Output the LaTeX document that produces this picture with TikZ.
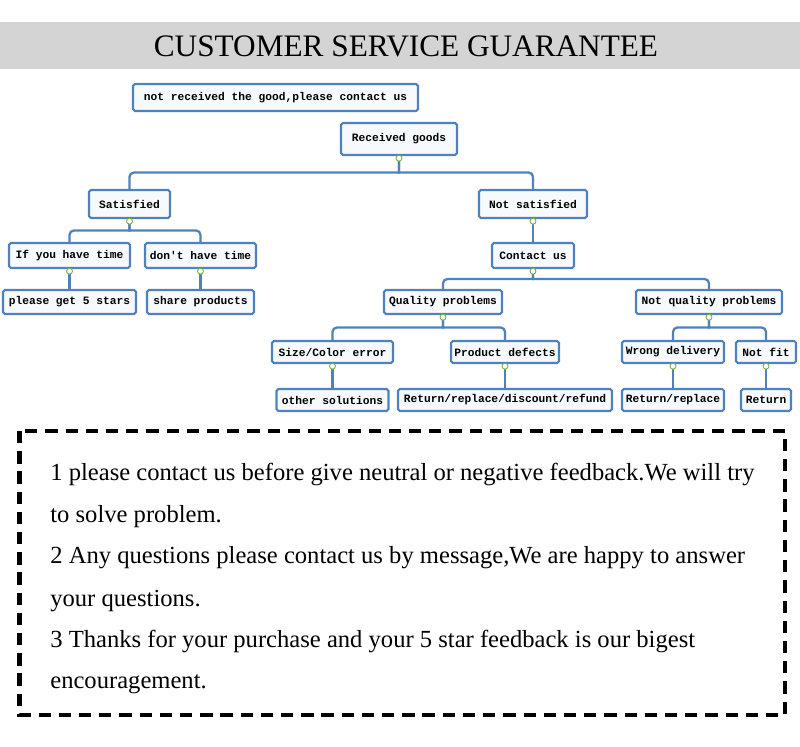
\documentclass[tikz,border=0pt]{standalone}
\usepackage{fontspec}
\setmainfont{Liberation Serif}
\newfontfamily\boxfont{Liberation Mono}
\usetikzlibrary{calc, positioning}

\definecolor{linkblue}{RGB}{79,129,189}
\definecolor{boxfill}{RGB}{246,250,253}
\definecolor{bargray}{RGB}{212,212,212}
\definecolor{knobgreen}{RGB}{112,180,60}

\begin{document}
\begin{tikzpicture}[
    x=0.02cm, y=-0.02cm,
    box/.style={draw=linkblue, line width=1.2pt, fill=boxfill, rounded corners=1pt, inner sep=0pt, font=\boxfont\bfseries\fontsize{6.4}{7}\selectfont},
    link/.style={draw=linkblue, line width=1.3pt},
    fork/.style={to path={(\tikztostart) |- ($(\tikztostart)!0.5!(\tikztotarget)$) [rounded corners=2.5pt] -| (\tikztotarget)}},
    knob/.style={circle, draw=knobgreen, fill=white, line width=0.5pt, inner sep=0pt, minimum size=3.4pt},
    note/.style={anchor=base west, inner sep=0pt, font=\fontsize{14}{16}\selectfont}
]
\useasboundingbox (0,0) rectangle (800,746);

% Title bar
\fill[bargray] (0,22) rectangle (800,69);
\node (title) at (406,46) {\fontsize{17.8}{20}\selectfont CUSTOMER SERVICE GUARANTEE};

% Tree boxes
\node (notrec) [box, minimum width=5.7cm, minimum height=0.54cm] at (275.5,97.5) {not received the good,please contact us};
\node (recv) [box, minimum width=2.32cm, minimum height=0.64cm] at (399,139) {Received goods};

\node (sat) [box, minimum width=1.62cm, minimum height=0.56cm] at (129.5,204) {Satisfied};
\node (notsat) [box, minimum width=2.16cm, minimum height=0.56cm] at (533,204) {Not satisfied};

\node (havetime) [box, minimum width=2.42cm, minimum height=0.5cm] at (69.5,255.5) {If you have time};
\node (notime) [box, minimum width=2.22cm, minimum height=0.5cm] at (200.5,255.5) {don't have time};
\node (contact) [box, minimum width=1.64cm, minimum height=0.5cm] at (533,255.5) {Contact us};

\node (stars) [box, minimum width=2.66cm, minimum height=0.48cm] at (69.5,302) {please get 5 stars};
\node (share) [box, minimum width=2.14cm, minimum height=0.48cm] at (200.5,302) {share products};
\node (quality) [box, minimum width=2.36cm, minimum height=0.48cm] at (443,302) {Quality problems};
\node (notquality) [box, minimum width=2.92cm, minimum height=0.48cm] at (709,302) {Not quality problems};

\node (sizecolor) [box, minimum width=2.42cm, minimum height=0.44cm] at (332.5,352) {Size/Color error};
\node (defects) [box, minimum width=2.16cm, minimum height=0.44cm] at (505,352) {Product defects};
\node (wrong) [box, minimum width=2.04cm, minimum height=0.44cm] at (673,352) {Wrong delivery};
\node (notfit) [box, minimum width=1.2cm, minimum height=0.44cm] at (766,352) {Not fit};

\node (othersol) [box, minimum width=2.24cm, minimum height=0.44cm] at (332.5,400) {other solutions};
\node (retall) [box, minimum width=4.28cm, minimum height=0.44cm] at (505,400) {Return/replace/discount/refund};
\node (retrep) [box, minimum width=2.04cm, minimum height=0.44cm] at (673,400) {Return/replace};
\node (ret) [box, minimum width=1cm, minimum height=0.44cm] at (766,400) {Return};

% Connectors
\path[link] (recv.south) edge[fork] (sat.north) edge[fork] (notsat.north);
\path[link] (sat.south) edge[fork] (havetime.north) edge[fork] (notime.north);
\path[link] (contact.south) edge[fork] (quality.north) edge[fork] (notquality.north);
\path[link] (quality.south) edge[fork] (sizecolor.north) edge[fork] (defects.north);
\path[link] (notquality.south) edge[fork] (wrong.north) edge[fork] (notfit.north);
\draw[link] (notsat) -- (contact);
\draw[link] (havetime) -- (stars);
\draw[link] (notime) -- (share);
\draw[link] (sizecolor) -- (othersol);
\draw[link] (defects) -- (retall);
\draw[link] (wrong) -- (retrep);
\draw[link] (notfit) -- (ret);

% Collapse knobs
\foreach \n in {recv, sat, notsat, havetime, notime, contact, quality, notquality, sizecolor, defects, wrong, notfit}
    \node (\n-knob) [knob, below=1.2pt of \n.south, anchor=center] {};

% Notes
\draw[line width=2.3pt, dash pattern=on 7pt off 4.5pt] (19.5,431) rectangle (785,715);
\node (line1) [note] at (50,480) {1 please contact us before give neutral or negative feedback.We will try};
\node (line2) [note] at (50,522) {to solve problem.};
\node (line3) [note] at (50,563) {2 Any questions please contact us by message,We are happy to answer};
\node (line4) [note] at (50,606) {your questions.};
\node (line5) [note] at (50,647) {3 Thanks for your purchase and your 5 star feedback is our bigest};
\node (line6) [note] at (50,688) {encouragement.};

\end{tikzpicture}
\end{document}
